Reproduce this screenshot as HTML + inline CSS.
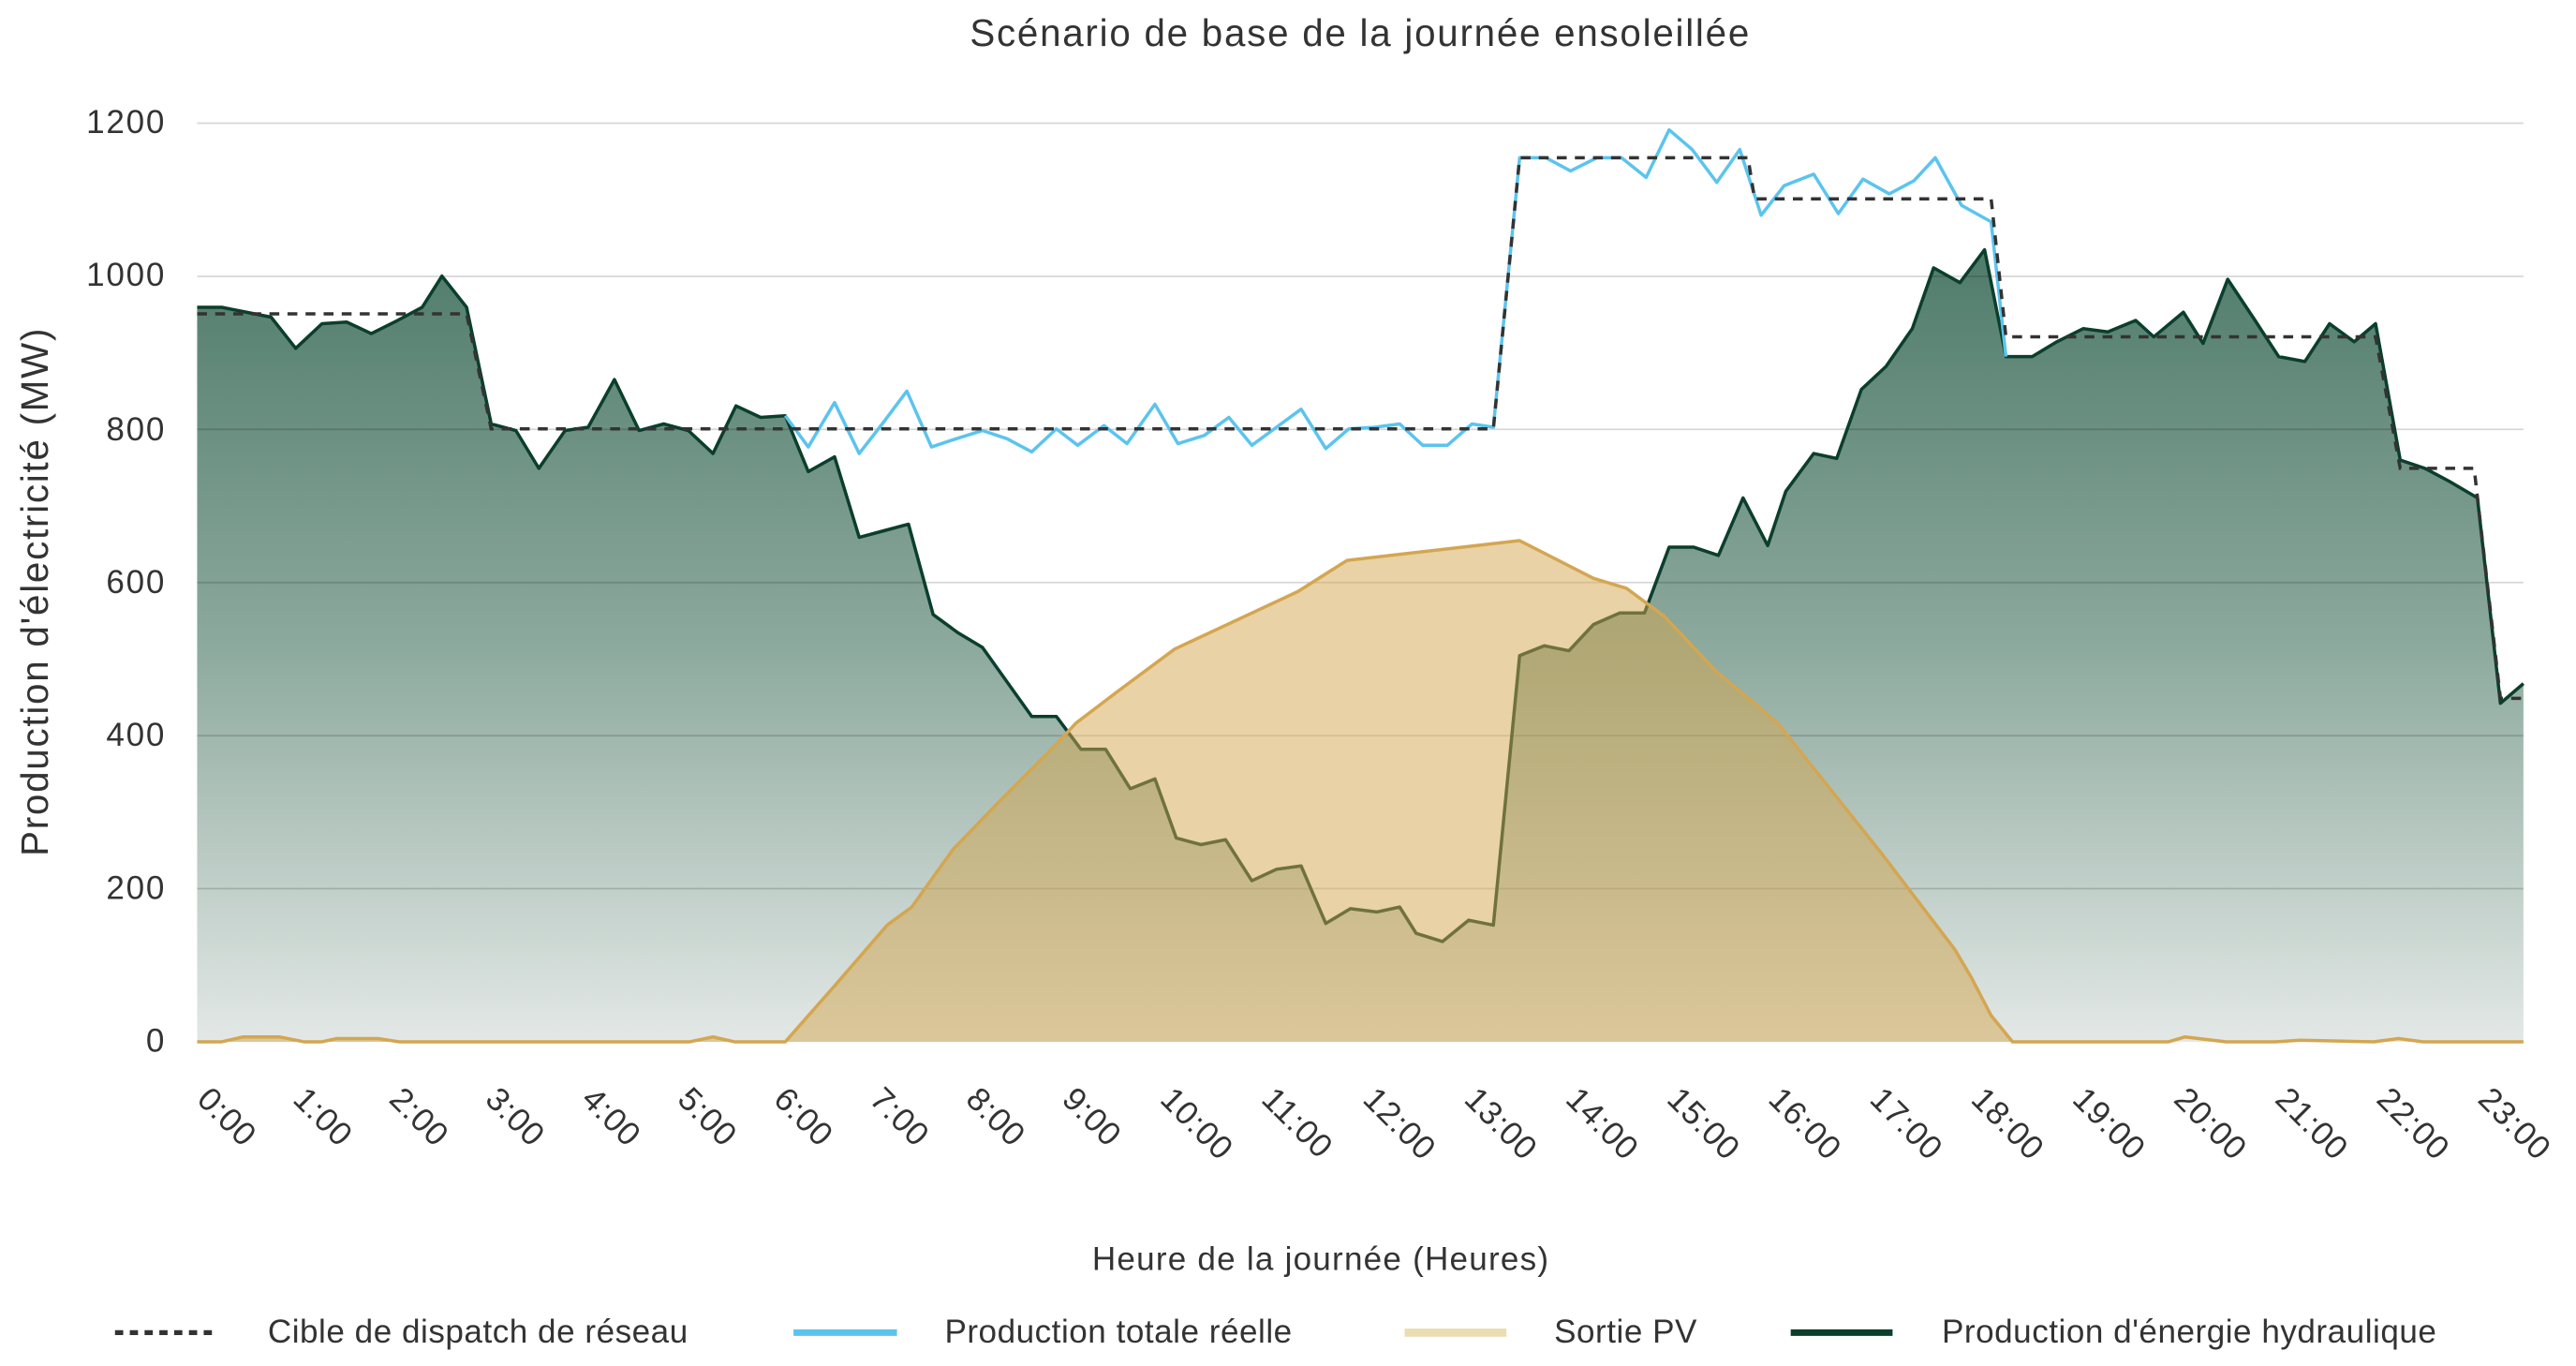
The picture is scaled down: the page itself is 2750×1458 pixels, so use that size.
<!DOCTYPE html>
<html><head><meta charset="utf-8"><style>
html,body{margin:0;padding:0;background:#fff;}
svg{display:block;}
text{font-family:"Liberation Sans","DejaVu Sans",sans-serif;fill:#333;}
</style></head><body>
<svg width="2750" height="1458" viewBox="0 0 1568 831.3" preserveAspectRatio="none" xmlns="http://www.w3.org/2000/svg">
<defs>
<linearGradient id="hg" x1="0" y1="150" x2="0" y2="634" gradientUnits="userSpaceOnUse">
<stop offset="0" stop-color="#4f7b6a"/>
<stop offset="0.5" stop-color="#8ca99d"/>
<stop offset="1" stop-color="#e3e8e6"/>
</linearGradient>
</defs>
<text x="828" y="28" text-anchor="middle" font-size="23" letter-spacing="1">Scénario de base de la journée ensoleillée</text>
<g font-size="20" text-anchor="end" letter-spacing="1">
<text x="101" y="81">1200</text><text x="101" y="174">1000</text><text x="101" y="268">800</text>
<text x="101" y="361">600</text><text x="101" y="454">400</text><text x="101" y="547">200</text><text x="101" y="640">0</text>
</g>
<text transform="translate(29,360) rotate(-90)" text-anchor="middle" font-size="23" letter-spacing="1">Production d'électricité (MW)</text>

<path fill="url(#hg)" d="M120,634 L120,187 L135,187 L150,190 L165,193 L180,212 L196,197 L211,196 L226,203 L242,195 L257,187 L269,168 L284,187 L299,258 L314,262 L328,285 L344,262 L358,260 L374,231 L389,262 L404,258 L419,262 L434,276 L448,247 L463,254 L478,253 L492,287 L508,278 L523,327 L538,323 L553,319 L568,374 L583,385 L598,394 L613,415 L628,436 L643,436 L658,456 L673,456 L688,480 L703,474 L716,510 L731,514 L746,511 L762,536 L777,529 L792,527 L807,562 L822,553 L838,555 L852,552 L862,568 L878,573 L894,560 L909,563 L925,399 L940,393 L955,396 L970,380 L986,373 L1001,373 L1016,333 L1031,333 L1046,338 L1061,303 L1076,332 L1087,299 L1104,276 L1118,279 L1133,237 L1148,223 L1164,200 L1177,163 L1193,172 L1208,152 L1221,217 L1237,217 L1252,208 L1268,200 L1283,202 L1300,195 L1311,205 L1329,190 L1341,209 L1356,170 L1372,194 L1387,217 L1403,220 L1418,197 L1433,208 L1446,197 L1461,280 L1476,285 L1491,293 L1508,303 L1522,428 L1536,416 L1536,634 Z"/>
<g stroke="#000" stroke-opacity="0.16" stroke-width="1">
<line x1="120" y1="75" x2="1536" y2="75"/><line x1="120" y1="168.2" x2="1536" y2="168.2"/><line x1="120" y1="261.3" x2="1536" y2="261.3"/>
<line x1="120" y1="354.5" x2="1536" y2="354.5"/><line x1="120" y1="447.7" x2="1536" y2="447.7"/><line x1="120" y1="540.8" x2="1536" y2="540.8"/>
</g>
<path fill="none" stroke="#0a3f2c" stroke-width="2" stroke-linejoin="round" d="M120,187 L135,187 L150,190 L165,193 L180,212 L196,197 L211,196 L226,203 L242,195 L257,187 L269,168 L284,187 L299,258 L314,262 L328,285 L344,262 L358,260 L374,231 L389,262 L404,258 L419,262 L434,276 L448,247 L463,254 L478,253 L492,287 L508,278 L523,327 L538,323 L553,319 L568,374 L583,385 L598,394 L613,415 L628,436 L643,436 L658,456 L673,456 L688,480 L703,474 L716,510 L731,514 L746,511 L762,536 L777,529 L792,527 L807,562 L822,553 L838,555 L852,552 L862,568 L878,573 L894,560 L909,563 L925,399 L940,393 L955,396 L970,380 L986,373 L1001,373 L1016,333 L1031,333 L1046,338 L1061,303 L1076,332 L1087,299 L1104,276 L1118,279 L1133,237 L1148,223 L1164,200 L1177,163 L1193,172 L1208,152 L1221,217 L1237,217 L1252,208 L1268,200 L1283,202 L1300,195 L1311,205 L1329,190 L1341,209 L1356,170 L1372,194 L1387,217 L1403,220 L1418,197 L1433,208 L1446,197 L1461,280 L1476,285 L1491,293 L1508,303 L1522,428 L1536,416"/>
<path fill="none" stroke="#5bc4ee" stroke-width="2" stroke-linejoin="round" d="M478,253 L492,272 L508,245 L523,276 L537,258 L552,238 L567,272 L582,267 L598,262 L613,267 L628,275 L643,261 L656,271 L672,259 L686,270 L703,246 L717,270 L733,265 L748,254 L762,271 L777,260 L792,249 L807,273 L821,261 L837,260 L852,258 L866,271 L881,271 L896,258 L909,260 L925,96 L941,96 L956,104 L972,96 L987,96 L1002,108 L1016,79 L1030,91 L1045,111 L1059,91 L1072,131 L1086,113 L1104,106 L1119,130 L1134,109 L1150,118 L1165,110 L1178,96 L1194,125 L1212,135 L1221,217"/>
<path fill="none" stroke="#333" stroke-width="2" stroke-dasharray="6,5" d="M120,191 L284,191 L299,261 L909,261 L925,96 L1064,96 L1068,121 L1212,121 L1221,205 L1446,205 L1461,285 L1506,285 L1522,425 L1536,425"/>
<path fill="rgba(212,166,78,0.5)" stroke="none" d="M120,634 L135,634 L148,631 L170,631 L185,634 L196,634 L205,632 L230,632 L243,634 L420,634 L434,631 L447,634 L478,634 L508,600 L540,563 L555,552 L580,517 L610,486 L640,456 L655,440 L680,421 L715,395 L790,360 L820,341 L925,329 L970,352 L990,358 L1013,375 L1045,409 L1082,440 L1145,519 L1190,578 L1200,595 L1212,618 L1225,634 L1536,634 Z"/>
<path fill="none" stroke="#d4a651" stroke-width="2" stroke-linejoin="round" d="M120,634 L135,634 L148,631 L170,631 L185,634 L196,634 L205,632 L230,632 L243,634 L420,634 L434,631 L447,634 L478,634 L508,600 L540,563 L555,552 L580,517 L610,486 L640,456 L655,440 L680,421 L715,395 L790,360 L820,341 L925,329 L970,352 L990,358 L1013,375 L1045,409 L1082,440 L1145,519 L1190,578 L1200,595 L1212,618 L1225,634 L1320,634 L1330,631 L1355,634 L1385,634 L1400,633 L1445,634 L1460,632 L1475,634 L1536,634"/>

<g font-size="20" letter-spacing="0.5">
<text transform="translate(119,670) rotate(45)">0:00</text>
<text transform="translate(177.5,670) rotate(45)">1:00</text>
<text transform="translate(236,670) rotate(45)">2:00</text>
<text transform="translate(294.5,670) rotate(45)">3:00</text>
<text transform="translate(353,670) rotate(45)">4:00</text>
<text transform="translate(411.5,670) rotate(45)">5:00</text>
<text transform="translate(470,670) rotate(45)">6:00</text>
<text transform="translate(528.5,670) rotate(45)">7:00</text>
<text transform="translate(587,670) rotate(45)">8:00</text>
<text transform="translate(645.5,670) rotate(45)">9:00</text>
<text transform="translate(705.3,670) rotate(45)">10:00</text>
<text transform="translate(767,670) rotate(45)">11:00</text>
<text transform="translate(828.7,670) rotate(45)">12:00</text>
<text transform="translate(890.4,670) rotate(45)">13:00</text>
<text transform="translate(952.1,670) rotate(45)">14:00</text>
<text transform="translate(1013.8,670) rotate(45)">15:00</text>
<text transform="translate(1075.5,670) rotate(45)">16:00</text>
<text transform="translate(1137.2,670) rotate(45)">17:00</text>
<text transform="translate(1198.9,670) rotate(45)">18:00</text>
<text transform="translate(1260.6,670) rotate(45)">19:00</text>
<text transform="translate(1322.3,670) rotate(45)">20:00</text>
<text transform="translate(1384,670) rotate(45)">21:00</text>
<text transform="translate(1445.7,670) rotate(45)">22:00</text>
<text transform="translate(1507.4,670) rotate(45)">23:00</text>
</g>
<text x="804" y="773" text-anchor="middle" font-size="20" letter-spacing="0.7">Heure de la journée (Heures)</text>

<line x1="70" y1="811" x2="133" y2="811" stroke="#333" stroke-width="3" stroke-dasharray="5,4"/>
<text x="163" y="817" font-size="20" letter-spacing="0.3">Cible de dispatch de réseau</text>
<line x1="483" y1="811" x2="546" y2="811" stroke="#5bc4ee" stroke-width="4"/>
<text x="575" y="817" font-size="20" letter-spacing="0.3">Production totale réelle</text>
<line x1="855" y1="811" x2="917" y2="811" stroke="#ecdcb2" stroke-width="5"/>
<text x="946" y="817" font-size="20" letter-spacing="0.3">Sortie PV</text>
<line x1="1090" y1="811" x2="1152" y2="811" stroke="#0a3f2c" stroke-width="4"/>
<text x="1182" y="817" font-size="20" letter-spacing="0.3">Production d'énergie hydraulique</text>
</svg>
</body></html>
